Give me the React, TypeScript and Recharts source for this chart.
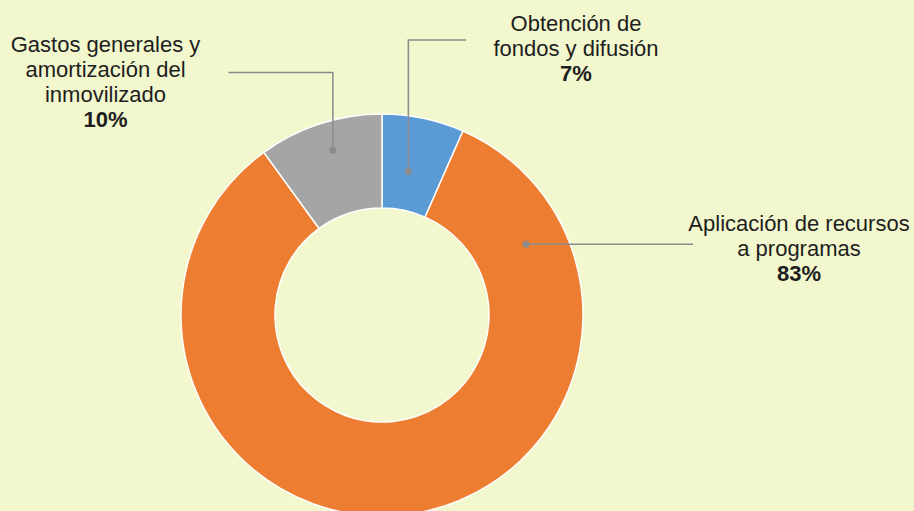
import React from "react";
import { PieChart, Pie, Cell } from "recharts";

const categories = [
  "Obtención de fondos y difusión",
  "Aplicación de recursos a programas",
  "Gastos generales y amortización del inmovilizado",
];
const values = [6.6, 83.4, 10.0];
const percentLabels = ["7%", "83%", "10%"];
const labelLines = [
  ["Obtención de", "fondos y difusión"],
  ["Aplicación de recursos", "a programas"],
  ["Gastos generales y", "amortización del", "inmovilizado"],
];
const colors = ["#5B9BD5", "#ED7D31", "#A5A5A5"];

// label layout (positions only)
const labelLayout = [
  { dotAngle: 79.6, dotR: 146, elbowY: 40, endX: 466, textX: 576, textY: 31 },
  { dotAngle: 26.2, dotR: 160.5, elbowY: null, endX: 693, textX: 799, textY: 231 },
  { dotAngle: 106.6, dotR: 172, elbowY: 72.5, endX: 228.5, textX: 105.5, textY: 52 },
];

const data = categories.map((name, i) => ({ name, value: values[i] }));

const RAD = Math.PI / 180;
const LINE_H = 25;
const LEADER = "#8C8C8C";

const renderLabel = (props: any) => {
  const { cx, cy, index } = props;
  const L = labelLayout[index];
  const dx = cx + L.dotR * Math.cos(L.dotAngle * RAD);
  const dy = cy - L.dotR * Math.sin(L.dotAngle * RAD);
  const path =
    L.elbowY == null
      ? `M${dx},${dy} L${L.endX},${dy}`
      : `M${dx},${dy} L${dx},${L.elbowY} L${L.endX},${L.elbowY}`;
  const lines = labelLines[index];
  return (
    <g key={`lbl-${index}`}>
      <path d={path} stroke={LEADER} strokeWidth={1.5} fill="none" />
      <circle cx={dx} cy={dy} r={3.5} fill={LEADER} />
      <text
        x={L.textX}
        y={L.textY}
        textAnchor="middle"
        fontFamily="'Liberation Sans', Arial, sans-serif"
        fontSize={22}
        fill="#1E1E1E"
      >
        {lines.map((t, k) => (
          <tspan key={k} x={L.textX} y={L.textY + k * LINE_H}>
            {t}
          </tspan>
        ))}
        <tspan x={L.textX} y={L.textY + lines.length * LINE_H} fontWeight="bold">
          {percentLabels[index]}
        </tspan>
      </text>
    </g>
  );
};

export default function App() {
  return (
    <div
      style={{
        position: "fixed",
        left: 0,
        top: 0,
        width: 914,
        height: 511,
        background: "#F2F7CD",
        overflow: "hidden",
      }}
    >
      <PieChart width={914} height={511} margin={{ top: 0, right: 0, bottom: 0, left: 0 }}>
        <Pie
          data={data}
          dataKey="value"
          nameKey="name"
          cx={382}
          cy={315}
          innerRadius={107}
          outerRadius={201}
          startAngle={90}
          endAngle={-270}
          stroke="#FFFFFF"
          strokeWidth={1.5}
          label={renderLabel}
          labelLine={false}
          isAnimationActive={false}
        >
          {data.map((d, i) => (
            <Cell key={d.name} fill={colors[i]} />
          ))}
        </Pie>
      </PieChart>
    </div>
  );
}
